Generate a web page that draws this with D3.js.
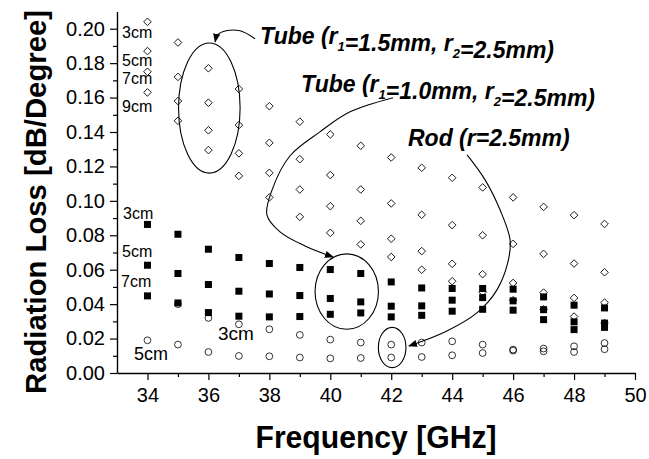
<!DOCTYPE html>
<html>
<head>
<meta charset="utf-8">
<script src="https://cdn.jsdelivr.net/npm/d3@7"></script>
<style>
  body { margin: 0; background: #fff; }
  svg { display: block; font-family: "Liberation Sans", Arial, sans-serif; }
</style>
</head>
<body>
<svg width="649" height="459"></svg>
<script>
// frecuencias (GHz)
const freq = [34, 35, 36, 37, 38, 39, 40, 41, 42, 43, 44, 45, 46, 47, 48, 49];

// Tube r1=1.5mm, r2=2.5mm (diamantes)
const tube15_3cm = [0.204, 0.192, 0.177, 0.165, 0.155, 0.146, 0.1386, 0.132, 0.1252, 0.1192, 0.1134, 0.1078, 0.102, 0.0965, 0.0917, 0.0866];
const tube15_5cm = [0.187, 0.172, 0.157, 0.144, 0.1337, 0.1242, 0.115, 0.1066, 0.0985, 0.0919, 0.0859, 0.080, 0.075, 0.0692, 0.0636, 0.0585];
const tube15_7cm = [0.175, 0.158, 0.141, 0.1276, 0.1163, 0.1066, 0.0969, 0.0884, 0.078, 0.0708, 0.0634, 0.0574, 0.0523, 0.0467, 0.0436, 0.0409];
const tube15_9cm = [0.163, 0.1465, 0.1295, 0.1145, 0.102, 0.0907, 0.0814, 0.0747, 0.0674, 0.060, 0.0533, 0.047, 0.0423, 0.037, 0.0328, 0.029];

// Tube r1=1.0mm, r2=2.5mm (cuadrados)
const tube10_3cm = [0.0863, 0.0806, 0.0719, 0.0671, 0.0636, 0.0613, 0.0601, 0.0578, 0.0529, 0.0494, 0.0491, 0.0491, 0.0487, 0.0442, 0.0394, 0.0378];
const tube10_5cm = [0.0626, 0.0578, 0.0514, 0.0475, 0.0459, 0.045, 0.0433, 0.0413, 0.0388, 0.039, 0.0423, 0.0438, 0.0419, 0.0368, 0.0297, 0.029];
const tube10_7cm = [0.0448, 0.0407, 0.0351, 0.033, 0.0326, 0.0328, 0.0341, 0.0349, 0.0326, 0.0335, 0.0359, 0.037, 0.0365, 0.031, 0.0252, 0.0265];

// Rod r=2.5mm (circulos)
const rod_3cm = [null, 0.040, 0.032, 0.0283, 0.0254, 0.0221, 0.0194, 0.0177, 0.0165, 0.0177, 0.0184, 0.0165, 0.0136, 0.0142, 0.0155, 0.0174];
const rod_5cm = [0.019, 0.0165, 0.0122, 0.0099, 0.0097, 0.009, 0.0085, 0.0087, 0.009, 0.0093, 0.0103, 0.0116, 0.013, 0.0126, 0.0122, 0.0138];

// ticks
const xTicks = [34, 36, 38, 40, 42, 44, 46, 48, 50];
const xMinor = [35, 37, 39, 41, 43, 45, 47, 49];
const yTicks = [0, 0.02, 0.04, 0.06, 0.08, 0.10, 0.12, 0.14, 0.16, 0.18, 0.20];
const yMinor = [0.01, 0.03, 0.05, 0.07, 0.09, 0.11, 0.13, 0.15, 0.17, 0.19];

const svg = d3.select("svg");

const x = d3.scaleLinear().domain([33, 50]).range([117, 635]);
const y = d3.scaleLinear().domain([0, 0.21]).range([373, 11.5]);

// ejes
const xAxis = svg.append("g").attr("transform", "translate(0,373)")
  .call(d3.axisBottom(x).tickValues(xTicks).tickSize(7).tickSizeOuter(0).tickFormat(d3.format("d")));
svg.append("g").attr("transform", "translate(0,373)")
  .call(d3.axisBottom(x).tickValues(xMinor).tickSize(4).tickFormat(""))
  .select(".domain").remove();

const yAxis = svg.append("g").attr("transform", "translate(117,0)")
  .call(d3.axisLeft(y).tickValues(yTicks).tickSize(7).tickSizeOuter(0).tickFormat(d3.format(".2f")));
svg.append("g").attr("transform", "translate(117,0)")
  .call(d3.axisLeft(y).tickValues(yMinor).tickSize(4).tickFormat(""))
  .select(".domain").remove();

svg.selectAll(".domain").attr("stroke", "#000").attr("stroke-width", 1.4);
svg.selectAll(".tick line").attr("stroke", "#000").attr("stroke-width", 1.2);
xAxis.selectAll("text").attr("font-size", 20).attr("font-family", "Liberation Sans, Arial").attr("dy", "0.95em").attr("fill", "#000");
yAxis.selectAll("text").attr("font-size", 20).attr("font-family", "Liberation Sans, Arial").attr("x", -12).attr("fill", "#000");

// titulos
svg.append("text")
  .attr("x", 376).attr("y", 448)
  .attr("text-anchor", "middle")
  .attr("font-size", 31).attr("font-weight", "bold")
  .attr("textLength", 241).attr("lengthAdjust", "spacingAndGlyphs")
  .text("Frequency [GHz]");

svg.append("text")
  .attr("transform", "translate(46,202) rotate(-90)")
  .attr("text-anchor", "middle")
  .attr("font-size", 29.5).attr("font-weight", "bold")
  .attr("textLength", 384).attr("lengthAdjust", "spacingAndGlyphs")
  .text("Radiation Loss [dB/Degree]");

// marcadores
const plot = svg.append("g");

function points(values) {
  return freq.map((f, i) => ({ f: f, v: values[i] })).filter(d => d.v !== null);
}

const r = 3.8;
[tube15_3cm, tube15_5cm, tube15_7cm, tube15_9cm].forEach(s => {
  plot.selectAll(null).data(points(s)).enter().append("path")
    .attr("d", `M0,${-r}L${r},0L0,${r}L${-r},0Z`)
    .attr("transform", d => `translate(${x(d.f)},${y(d.v)})`)
    .attr("fill", "none").attr("stroke", "#000").attr("stroke-width", 0.9);
});

[rod_3cm, rod_5cm].forEach(s => {
  plot.selectAll(null).data(points(s)).enter().append("circle")
    .attr("cx", d => x(d.f)).attr("cy", d => y(d.v)).attr("r", 3.4)
    .attr("fill", "none").attr("stroke", "#000").attr("stroke-width", 0.8);
});

[tube10_3cm, tube10_5cm, tube10_7cm].forEach(s => {
  plot.selectAll(null).data(points(s)).enter().append("rect")
    .attr("x", d => x(d.f) - 3.5).attr("y", d => y(d.v) - 3.5)
    .attr("width", 7).attr("height", 7).attr("fill", "#000");
});

// etiquetas de distancia
const labels = [
  { t: "3cm", x: 122, y: 38, s: 16 }, { t: "5cm", x: 122, y: 66, s: 16 },
  { t: "7cm", x: 122, y: 84, s: 16 }, { t: "9cm", x: 122, y: 112, s: 16 },
  { t: "3cm", x: 123, y: 219, s: 16 }, { t: "5cm", x: 122, y: 257, s: 16 },
  { t: "7cm", x: 121, y: 287, s: 16 },
  { t: "3cm", x: 218, y: 340, s: 19 }, { t: "5cm", x: 134, y: 360, s: 18 }
];
svg.selectAll(".lbl").data(labels).enter().append("text")
  .attr("class", "lbl")
  .attr("x", d => d.x).attr("y", d => d.y)
  .attr("font-size", d => d.s)
  .text(d => d.t);

// elipses (en unidades de datos)
const ellipses = [
  { f: 36.03, v: 0.1539, rf: 1.01, rv: 0.0378 },
  { f: 40.54, v: 0.0473, rf: 1.04, rv: 0.0219 },
  { f: 42.03, v: 0.0148, rf: 0.453, rv: 0.0117 }
];
svg.selectAll(".ell").data(ellipses).enter().append("ellipse")
  .attr("cx", d => x(d.f)).attr("cy", d => y(d.v))
  .attr("rx", d => x(d.f + d.rf) - x(d.f))
  .attr("ry", d => y(d.v - d.rv) - y(d.v))
  .attr("fill", "none").attr("stroke", "#000").attr("stroke-width", 1.1);

// flechas
svg.append("defs").append("marker")
  .attr("id", "head").attr("viewBox", "0 -5 10 10")
  .attr("refX", 9).attr("refY", 0)
  .attr("markerWidth", 9).attr("markerHeight", 9)
  .attr("markerUnits", "userSpaceOnUse")
  .attr("orient", "auto")
  .append("path").attr("d", "M0,-4L10,0L0,4Z").attr("fill", "#000");

const arrow1 = [[37.53, 0.1942], [37.04, 0.1988], [36.58, 0.1988], [36.31, 0.1965], [36.22, 0.1924]];
const arrow2 = [[42.06, 0.1599], [40.65, 0.1517], [39.66, 0.1401], [38.68, 0.1262], [38.09, 0.1064], [37.92, 0.0919], [38.35, 0.082], [39.17, 0.0738], [40.09, 0.0674]];
const arrow3 = [[44.49, 0.1267], [45.08, 0.1122], [45.57, 0.0948], [45.90, 0.0773], [45.83, 0.0645], [45.47, 0.0483], [44.81, 0.0349], [43.76, 0.0238], [42.58, 0.0157]];

const line = d3.line().x(d => x(d[0])).y(d => y(d[1])).curve(d3.curveCatmullRom);
[arrow1, arrow2, arrow3].forEach(a => {
  svg.append("path").attr("d", line(a))
    .attr("fill", "none").attr("stroke", "#000").attr("stroke-width", 1.1)
    .attr("marker-end", "url(#head)");
});

// textos de anotacion
function note(px, py, parts) {
  const t = svg.append("text").attr("x", px).attr("y", py)
    .attr("font-size", 23).attr("font-weight", "bold").attr("font-style", "italic");
  parts.forEach(p => {
    if (typeof p === "object") {
      t.append("tspan").attr("font-size", 13).attr("dy", 7).text(p.sub);
      t.append("tspan").attr("dy", -7).text("");
    } else {
      t.append("tspan").text(p);
    }
  });
}
note(260, 44, ["Tube (r", { sub: "1" }, "=1.5mm, r", { sub: "2" }, "=2.5mm)"]);
note(301, 92, ["Tube (r", { sub: "1" }, "=1.0mm, r", { sub: "2" }, "=2.5mm)"]);
note(408, 146, ["Rod (r=2.5mm)"]);
</script>
</body>
</html>
